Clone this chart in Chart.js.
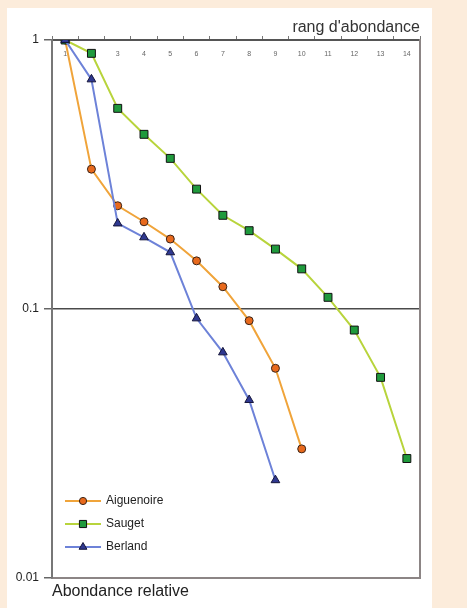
<!DOCTYPE html>
<html>
<head>
<meta charset="utf-8">
<script src="https://cdn.jsdelivr.net/npm/chart.js@4.4.1/dist/chart.umd.min.js"></script>
<style>
  html, body { margin: 0; padding: 0; background: #fcecdb; }
  #wrap { position: relative; width: 467px; height: 608px; }
  #panel { position: absolute; left: 7px; top: 8px; width: 425px; height: 600px; background: #ffffff; }
  canvas { position: absolute; left: 0; top: 0; }
</style>
</head>
<body>
<div id="wrap">
  <div id="panel"></div>
  <canvas id="c" width="467" height="608"></canvas>
</div>
<script>
// ---- data ----
const ranks = ['1','2','3','4','5','6','7','8','9','10','11','12','13','14'];
const aiguenoire = [1, 0.331, 0.242, 0.211, 0.182, 0.151, 0.121, 0.0905, 0.0602, 0.0302];
const sauget = [1, 0.892, 0.557, 0.446, 0.363, 0.279, 0.223, 0.1955, 0.167, 0.141, 0.1105, 0.0835, 0.0557, 0.0278];
const berland = [1, 0.714, 0.208, 0.1847, 0.1625, 0.0923, 0.069, 0.0459, 0.0231];
const yTickValues = [0.01, 0.1, 1];
const seriesNames = ['Aiguenoire', 'Sauget', 'Berland'];

const styles = [
  { line: '#f0a43a', fill: '#e8691c', edge: '#3a2418', shape: 'circle', r: 4 },
  { line: '#b8d43c', fill: '#1f9a3c', edge: '#111111', shape: 'rect', r: 5.6 },
  { line: '#6d82d8', fill: '#2f3890', edge: '#15153a', shape: 'triangle', r: 5 }
];

// legend icons: short line with marker in the middle
function makeIcon(st) {
  const cv = document.createElement('canvas');
  cv.width = 36; cv.height = 12;
  const g = cv.getContext('2d');
  g.strokeStyle = st.line; g.lineWidth = 2;
  g.beginPath(); g.moveTo(0, 6); g.lineTo(36, 6); g.stroke();
  g.fillStyle = st.fill; g.strokeStyle = st.edge; g.lineWidth = 1;
  g.beginPath();
  const r = st.r * 0.9;
  if (st.shape === 'circle') { g.arc(18, 6, r, 0, Math.PI * 2); }
  else if (st.shape === 'rect') { const s = r * Math.SQRT1_2; g.rect(18 - s, 6 - s, 2 * s, 2 * s); }
  else { g.moveTo(18, 6 - r); g.lineTo(18 + r * 0.87, 6 + r * 0.5); g.lineTo(18 - r * 0.87, 6 + r * 0.5); g.closePath(); }
  g.fill(); g.stroke();
  return cv;
}

const seriesData = [aiguenoire, sauget, berland];
const datasets = seriesData.map((d, i) => ({
  label: seriesNames[i],
  data: d,
  borderColor: styles[i].line,
  borderWidth: 2,
  backgroundColor: styles[i].fill,
  pointBackgroundColor: styles[i].fill,
  pointBorderColor: styles[i].edge,
  pointBorderWidth: 1,
  pointStyle: styles[i].shape,
  pointRadius: styles[i].r,
  pointHoverRadius: styles[i].r,
  tension: 0,
  xAxisID: 'x',
  yAxisID: 'y',
  order: 2 - i
}));

const icons = styles.map(makeIcon);

const adjustLegend = {
  id: 'adjustLegend',
  afterLayout(chart) {
    const lg = chart.legend;
    if (!lg) return;
    lg.left = chart.chartArea.left + 3;
    lg.bottom = chart.chartArea.bottom - 14;
  }
};

new Chart(document.getElementById('c'), {
  type: 'line',
  data: { labels: ranks, datasets },
  plugins: [adjustLegend],
  options: {
    responsive: false,
    animation: false,
    events: [],
    layout: { padding: { left: 0, right: 47, top: 6, bottom: 0 } },
    font: { family: 'Arial, "Liberation Sans", sans-serif' },
    scales: {
      x: {
        type: 'category',
        position: 'top',
        offset: true,
        grid: { display: true, drawOnChartArea: false, offset: true, tickLength: 4, color: '#777', tickColor: '#777' },
        border: { color: '#555', width: 2 },
        ticks: { color: '#666', font: { size: 7, family: 'Arial, "Liberation Sans", sans-serif' }, mirror: true, padding: 10, autoSkip: false, maxRotation: 0 },
        title: { display: true, text: "rang d'abondance", align: 'end', color: '#333', font: { size: 16, family: 'Arial, "Liberation Sans", sans-serif' }, padding: { top: 12, bottom: 0 } },
        afterFit(s) { s.height = 34; }
      },
      x2: {
        type: 'category',
        position: 'bottom',
        offset: true,
        grid: { display: false },
        ticks: { display: false },
        border: { color: '#8c8585', width: 2 },
        title: { display: true, text: 'Abondance relative', align: 'start', color: '#222', font: { size: 16, family: 'Arial, "Liberation Sans", sans-serif' }, padding: { top: 0, bottom: 7 } },
        afterFit(s) { s.height = 30; }
      },
      y: {
        type: 'logarithmic',
        position: 'left',
        min: 0.01,
        max: 1,
        afterBuildTicks(s) { s.ticks = yTickValues.map(v => ({ value: v })); },
        ticks: {
          color: '#222',
          font: { size: 12, family: 'Arial, "Liberation Sans", sans-serif' },
          padding: 5,
          callback: (v) => String(v)
        },
        grid: {
          color: (ctx) => (ctx.tick && ctx.tick.value === 0.1 ? '#4a4a4a' : 'rgba(0,0,0,0)'),
          lineWidth: 1.5,
          tickLength: 8,
          tickColor: '#666'
        },
        border: { color: '#777', width: 2 },
        afterFit(s) { s.width = 52; }
      },
      y2: {
        type: 'logarithmic',
        position: 'right',
        min: 0.01,
        max: 1,
        grid: { display: false },
        ticks: { display: false },
        border: { color: '#8c8585', width: 2 },
        afterFit(s) { s.width = 0; }
      }
    },
    plugins: {
      title: { display: false },
      tooltip: { enabled: false },
      legend: {
        display: true,
        position: 'chartArea',
        align: 'end',
        labels: {
          usePointStyle: true,
          pointStyleWidth: 34,
          padding: 11,
          color: '#222',
          font: { size: 12, family: 'Arial, "Liberation Sans", sans-serif' },
          generateLabels: (chart) => chart.data.datasets.map((ds, i) => ({
            text: ds.label,
            pointStyle: icons[i],
            datasetIndex: i,
            fillStyle: 'rgba(0,0,0,0)',
            strokeStyle: 'rgba(0,0,0,0)',
            lineWidth: 0,
            hidden: false,
            fontColor: '#222'
          }))
        }
      }
    }
  }
});
</script>
</body>
</html>
